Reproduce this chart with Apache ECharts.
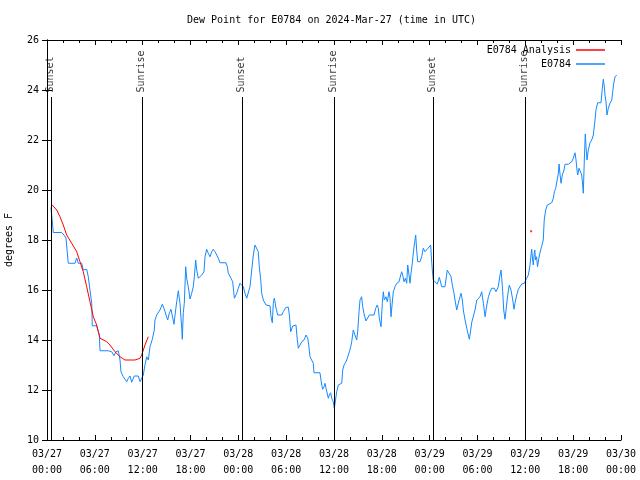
<!DOCTYPE html>
<html>
<head>
<meta charset="utf-8">
<script src="https://cdn.jsdelivr.net/npm/echarts@6/dist/echarts.min.js"></script>
<style>html,body{margin:0;padding:0;background:#fff}#c{width:640px;height:480px}</style>
</head>
<body>
<div id="c"></div>
<script>
// hours since 2024-03-27 00:00 UTC
var obsHours = [0.50,0.69,0.79,1.84,1.97,2.13,2.38,2.57,2.67,3.51,3.73,3.93,4.35,4.55,4.98,5.18,5.39,5.61,5.68,6.23,6.36,6.56,6.65,7.69,8.12,8.40,8.65,8.94,9.16,9.28,9.57,10.00,10.20,10.41,10.62,10.95,11.45,11.67,11.88,12.08,12.29,12.51,12.71,12.92,13.21,13.46,13.54,13.76,13.96,14.17,14.46,14.67,14.93,15.14,15.34,15.55,15.77,15.93,16.06,16.27,16.47,16.68,16.90,16.97,17.10,17.22,17.40,17.52,17.72,17.94,18.15,18.35,18.48,18.65,18.78,18.98,19.41,19.69,19.82,20.03,20.23,20.45,20.66,20.86,21.07,21.29,21.49,21.70,22.45,22.62,22.74,22.96,23.08,23.29,23.50,23.80,24.00,24.21,24.42,24.62,24.84,25.05,25.25,25.46,25.68,25.88,26.09,26.30,26.50,26.63,26.81,26.93,27.13,27.47,27.97,28.10,28.26,28.39,28.51,28.60,28.73,28.94,29.44,29.64,29.98,30.27,30.40,30.57,30.82,31.02,31.23,31.40,31.52,31.74,31.95,32.24,32.49,32.58,32.70,32.83,32.99,33.20,33.40,33.49,34.24,34.46,34.58,34.75,34.87,35.00,35.16,35.29,35.41,35.59,35.71,35.91,36.04,36.21,36.34,36.54,36.97,37.09,37.26,37.51,37.67,37.92,38.10,38.22,38.42,38.63,38.85,38.97,39.14,39.26,39.47,39.60,39.80,40.01,40.18,40.43,41.02,41.23,41.43,41.56,41.68,41.90,42.06,42.19,42.31,42.52,42.69,42.90,43.03,43.15,43.28,43.44,43.65,43.87,44.16,44.37,44.49,44.62,44.78,44.95,45.12,45.25,45.41,45.53,45.66,45.82,45.95,46.07,46.25,46.37,46.50,46.79,47.00,47.20,47.41,47.62,47.79,48.13,48.20,48.33,48.45,48.67,48.96,49.21,49.51,49.92,50.09,50.21,50.46,50.68,50.84,51.02,51.18,51.39,51.59,51.81,51.93,52.10,52.22,52.44,52.65,52.85,52.98,53.15,53.28,53.48,53.69,53.91,54.11,54.32,54.53,54.74,54.95,55.17,55.37,55.58,55.79,56.11,56.32,56.49,56.61,56.82,56.95,57.04,57.16,57.29,57.45,57.58,57.79,57.99,58.20,58.42,58.58,58.70,58.92,59.12,59.33,59.55,59.87,60.17,60.38,60.50,60.59,60.71,60.80,60.92,61.00,61.12,61.19,61.28,61.41,61.53,61.70,61.82,62.03,62.25,62.37,62.55,62.76,62.88,63.31,63.51,63.64,63.81,64.01,64.14,64.23,64.36,64.48,64.64,64.85,64.98,65.39,65.82,66.02,66.23,66.36,66.48,66.57,66.73,66.95,67.07,67.20,67.27,67.40,67.52,67.61,67.74,67.90,68.11,68.33,68.53,68.74,68.87,69.08,69.49,69.66,69.78,69.91,69.99,70.12,70.24,70.41,70.62,70.84,70.96,71.09,71.25,71.46];
var obsValues = [19.3,19.3,18.3,18.3,18.35,18.2,18.08,18.0,17.07,17.07,17.28,17.07,17.07,16.8,16.83,16.53,16.0,15.47,14.57,14.57,14.5,14.2,13.57,13.57,13.53,13.37,13.53,13.57,13.2,12.73,12.53,12.33,12.47,12.56,12.31,12.56,12.56,12.33,12.33,12.6,13.0,13.33,13.2,13.73,14.03,14.4,14.8,15.0,15.0,15.2,15.43,15.27,15.0,14.8,15.07,15.23,15.2,14.63,15.0,15.53,15.97,15.47,14.47,14.03,15.1,15.47,16.93,16.47,16.13,15.64,15.87,16.13,16.53,17.2,16.8,16.47,16.6,16.73,17.33,17.63,17.47,17.33,17.53,17.63,17.53,17.4,17.27,17.09,17.09,16.93,16.67,16.67,16.47,16.33,15.67,15.87,16.07,16.27,16.2,16.13,15.87,15.67,15.67,16.13,16.8,17.4,17.8,17.8,17.53,16.93,16.4,15.87,15.6,15.4,15.37,14.93,14.69,15.47,15.67,15.53,15.27,15.0,15.0,15.13,15.31,15.31,15.0,14.33,14.56,14.63,14.6,14.0,13.67,13.8,13.93,14.0,14.2,14.27,14.07,13.8,13.33,13.27,13.07,12.69,12.69,12.2,12.03,12.13,12.27,12.07,12.03,11.67,11.8,11.89,11.67,11.53,11.27,11.27,11.93,12.2,12.27,12.8,13.0,13.13,13.27,13.53,13.73,13.93,14.4,14.2,14.0,14.33,15.13,15.6,15.73,15.33,15.0,14.76,14.76,15.0,15.0,15.27,15.4,15.27,14.87,14.53,15.47,15.93,15.6,15.73,15.53,15.93,15.67,14.93,15.4,15.93,16.13,16.27,16.33,16.6,16.73,16.6,16.33,16.47,16.27,17.0,16.6,16.27,16.67,17.07,17.47,17.8,18.2,17.6,17.13,17.13,17.33,17.67,17.53,17.6,17.67,17.8,17.4,16.8,16.4,16.33,16.24,16.51,16.13,16.13,16.53,16.8,16.8,16.53,16.2,15.93,15.6,15.2,15.47,15.73,15.87,15.6,15.2,14.8,14.47,14.2,14.03,14.4,14.71,14.73,15.2,15.6,15.67,15.73,15.93,15.47,14.93,15.4,15.73,15.93,16.07,16.07,15.93,15.87,16.13,16.6,16.8,16.47,15.93,15.2,14.83,15.2,15.8,16.2,16.0,15.6,15.23,15.47,15.8,16.03,16.13,16.24,16.27,16.47,16.6,16.67,17.0,17.4,17.63,17.2,17.0,17.47,17.6,17.2,17.33,16.93,17.27,17.47,17.73,18.0,18.8,19.2,19.4,19.47,19.49,19.67,19.93,20.07,20.13,20.67,21.04,20.6,20.27,20.6,20.8,21.03,21.03,21.13,21.27,21.49,21.2,20.8,20.6,20.87,20.91,20.6,20.2,19.87,21.2,22.24,21.73,21.2,21.6,21.89,22.0,22.2,22.8,23.23,23.49,23.49,24.07,24.43,24.13,23.8,23.53,23.0,23.27,23.47,23.6,23.93,24.27,24.53,24.6];

var anaHours = [0.66,1.22,1.63,2.04,2.47,3.10,3.73,4.14,4.55,4.98,5.39,5.81,6.23,6.65,7.49,7.90,8.53,9.16,9.78,11.04,11.67,11.88,12.29,12.71];
var anaValues = [19.4,19.2,18.93,18.6,18.2,17.87,17.53,17.13,16.73,16.13,15.53,14.93,14.6,14.07,13.93,13.8,13.53,13.33,13.2,13.2,13.27,13.4,13.8,14.13];
var anaDotHours = [60.73];
var anaDotValues = [18.35];

var sunHours = [0.50, 11.92, 24.46, 36.00, 48.42, 59.96];
var sunLabels = ['Sunset','Sunrise','Sunset','Sunrise','Sunset','Sunrise'];

var xTickLabels = ['03/27\n00:00','03/27\n06:00','03/27\n12:00','03/27\n18:00','03/28\n00:00','03/28\n06:00','03/28\n12:00','03/28\n18:00','03/29\n00:00','03/29\n06:00','03/29\n12:00','03/29\n18:00','03/30\n00:00'];
var yTickLabels = ['10','12','14','16','18','20','22','24','26'];

var FONT = 'DejaVu Sans Mono';
var LINE_TOP = 23.72, LABEL_BASE = 23.88;

function zip(a, b) { return a.map(function (v, i) { return [v, b[i]]; }); }

var chart = echarts.init(document.getElementById('c'), null, { renderer: 'canvas' });

var txt = { color: '#000', fontFamily: FONT, fontSize: 10 };

var xBase = {
  type: 'value', min: 0, max: 72, interval: 6,
  axisLine: { show: true, lineStyle: { color: '#000', width: 1 } },
  axisTick: { show: true, inside: true, length: 5, lineStyle: { color: '#000' } },
  minorTick: { show: true, splitNumber: 3, length: 3, lineStyle: { color: '#000' } },
  splitLine: { show: false }, minorSplitLine: { show: false }
};
var yBase = {
  type: 'value', min: 10, max: 26, interval: 2,
  axisLine: { show: true, lineStyle: { color: '#000', width: 1 } },
  axisTick: { show: true, inside: true, length: 5, lineStyle: { color: '#000' } },
  splitLine: { show: false }
};

var sunLines = sunHours.map(function (h) {
  return [{ coord: [h, 10] }, { coord: [h, LINE_TOP] }];
});

chart.setOption({
  animation: false,
  backgroundColor: '#fff',
  title: {
    text: 'Dew Point for E0784 on 2024-Mar-27 (time in UTC)',
    left: 182, top: 10,
    textStyle: { color: '#000', fontFamily: FONT, fontSize: 10, fontWeight: 'normal' }
  },
  grid: { left: 47, right: 19, top: 40, bottom: 40, containLabel: false, outerBoundsMode: 'none' },
  legend: [
    { data: [{ name: 'E0784 Analysis', icon: 'rect' }], right: 30, top: 40, orient: 'vertical', align: 'right',
      itemWidth: 29, itemHeight: 1.5, itemGap: 2, textStyle: txt, selectedMode: false },
    { data: [{ name: 'E0784', icon: 'rect' }], right: 30, top: 54, orient: 'vertical', align: 'right',
      itemWidth: 29, itemHeight: 1.5, itemGap: 2, textStyle: txt, selectedMode: false }
  ],
  xAxis: [
    Object.assign({}, xBase, { position: 'bottom',
      axisLabel: Object.assign({ margin: 6, lineHeight: 16, formatter: function (v) { return xTickLabels[Math.round(v / 6)]; } }, txt) }),
    Object.assign({}, xBase, { position: 'top', axisLabel: { show: false } })
  ],
  yAxis: [
    Object.assign({}, yBase, { position: 'left', name: 'degrees F', nameLocation: 'middle', nameGap: 33,
      nameTextStyle: txt,
      axisLabel: Object.assign({ margin: 8, formatter: function (v) { return yTickLabels[Math.round((v - 10) / 2)]; } }, txt) }),
    Object.assign({}, yBase, { position: 'right', axisLabel: { show: false } })
  ],
  series: [
    {
      name: 'E0784 Analysis', type: 'line', data: zip(anaHours, anaValues),
      showSymbol: false, color: '#ff0000', lineStyle: { width: 1, color: '#ff0000' }, z: 4,
      markLine: { silent: true, symbol: ['none', 'none'], label: { show: false },
        lineStyle: { color: '#000', width: 1, type: 'solid' }, data: sunLines }
    },
    {
      name: 'E0784 Analysis', type: 'scatter', data: zip(anaDotHours, anaDotValues),
      symbol: 'rect', symbolSize: 2, color: '#ff0000', z: 4
    },
    {
      name: 'E0784', type: 'line', data: zip(obsHours, obsValues),
      showSymbol: false, color: '#1589ff', lineStyle: { width: 1, color: '#1589ff' }, z: 3
    },
    {
      name: 'sun', type: 'scatter', silent: true,
      data: sunHours.map(function (h, i) { return { value: [h, LABEL_BASE], name: sunLabels[i] }; }),
      symbolSize: 1, itemStyle: { color: 'rgba(0,0,0,0)' },
      label: { show: true, formatter: '{b}', rotate: 90, position: [0, 0], align: 'left', verticalAlign: 'middle',
        color: '#000', fontFamily: FONT, fontSize: 10 }
    }
  ]
});
</script>
</body>
</html>
